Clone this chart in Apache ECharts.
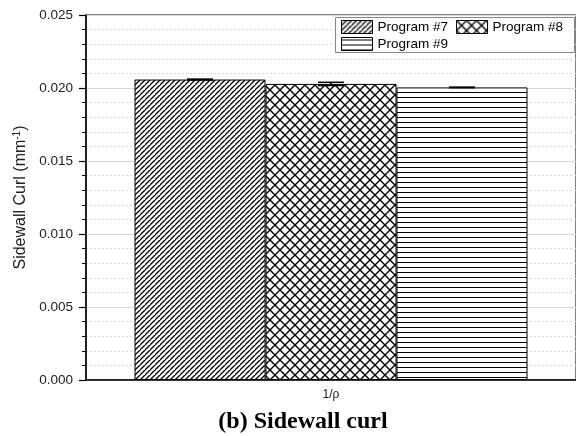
<!DOCTYPE html>
<html>
<head>
<meta charset="utf-8">
<script src="https://cdn.jsdelivr.net/npm/echarts@6/dist/echarts.min.js"></script>
<style>html,body{margin:0;padding:0;background:#fff;}#c{width:576px;height:436px;}</style>
</head>
<body>
<div id="c"></div>
<script>
// ---- data ----
const categories = ['1/\u03c1'];
const seriesNames = ['Program #7', 'Program #8', 'Program #9'];
const program7 = [0.02058];
const program8 = [0.02028];
const program9 = [0.02004];
const errors7 = [0.00003];
const errors8 = [0.00011];
const errors9 = [0.00002];
const yTicks = ['0.000', '0.005', '0.010', '0.015', '0.020', '0.025'];

// ---- hatch patterns ----
function makePattern(kind) {
  const s = kind === 'cross' ? 10 : 5;
  const c = document.createElement('canvas');
  c.width = s; c.height = s;
  const g = c.getContext('2d');
  g.fillStyle = '#fff'; g.fillRect(0, 0, s, s);
  g.strokeStyle = '#000';
  if (kind === 'diag') {
    g.lineWidth = 1.3;
    g.beginPath();
    g.moveTo(-1, s + 1); g.lineTo(s + 1, -1);
    g.moveTo(-1 - s, s + 1); g.lineTo(1, -1);
    g.moveTo(s - 1, 2 * s + 1); g.lineTo(2 * s + 1, s - 1);
    g.stroke();
  } else if (kind === 'cross') {
    g.lineWidth = 1.4;
    g.beginPath();
    g.moveTo(-1, s + 1); g.lineTo(s + 1, -1);
    g.moveTo(-1, -1); g.lineTo(s + 1, s + 1);
    g.stroke();
  } else {
    g.lineWidth = 1;
    g.beginPath();
    g.moveTo(0, 2.5); g.lineTo(s, 2.5);
    g.stroke();
  }
  return { image: c, repeat: 'repeat' };
}
const patterns = [makePattern('diag'), makePattern('cross'), makePattern('horiz')];
const values = [program7, program8, program9];
const errs = [errors7, errors8, errors9];

const BAR_W = 131;

const series = [];
values.forEach((v, i) => {
  series.push({
    name: seriesNames[i],
    type: 'bar',
    data: v,
    barWidth: BAR_W,
    barGap: '0%',
    itemStyle: { color: patterns[i], borderColor: '#000', borderWidth: 1 },
    emphasis: { disabled: true },
    z: 2
  });
});
values.forEach((v, i) => {
  series.push({
    type: 'custom',
    name: 'err' + i,
    data: v.map((val, k) => [k, val, errs[i][k]]),
    z: 5,
    renderItem: function (params, api) {
      const x = api.value(0);
      const val = api.value(1);
      const e = api.value(2);
      const hi = api.coord([x, val + e]);
      const lo = api.coord([x, val - e]);
      const cx = hi[0] + (i - 1) * BAR_W;
      const hw = 13;
      const st = { stroke: '#000', lineWidth: 1.5 };
      return {
        type: 'group',
        children: [
          { type: 'line', shape: { x1: cx, y1: hi[1], x2: cx, y2: lo[1] }, style: st },
          { type: 'line', shape: { x1: cx - hw, y1: hi[1], x2: cx + hw, y2: hi[1] }, style: st },
          { type: 'line', shape: { x1: cx - hw, y1: lo[1], x2: cx + hw, y2: lo[1] }, style: st }
        ]
      };
    }
  });
});

const chart = echarts.init(document.getElementById('c'), null, { renderer: 'canvas' });
const legendText = { fontFamily: 'Liberation Sans, Arial, sans-serif', fontSize: 13.5, color: '#000' };
chart.setOption({
  animation: false,
  backgroundColor: '#fff',
  title: {
    text: '(b) Sidewall curl',
    left: 298, top: 405, textAlign: 'center',
    textStyle: { fontFamily: 'Liberation Serif, Times New Roman, serif', fontWeight: 'bold', fontSize: 24, color: '#000' }
  },
  grid: { left: 86, right: -1, top: 15, bottom: 56, show: true, borderColor: '#000', borderWidth: 1, backgroundColor: 'transparent' },
  graphic: [{
    type: 'rect', shape: { x: 335.5, y: 17.5, width: 239, height: 35 },
    style: { fill: '#fff', stroke: '#888', lineWidth: 1 }, z: 10
  }],
  legend: [
    {
      data: [
        { name: seriesNames[0], itemStyle: { color: patterns[0], borderColor: '#000', borderWidth: 1 } },
        { name: seriesNames[1], itemStyle: { color: patterns[1], borderColor: '#000', borderWidth: 1 } }
      ],
      left: 336, top: 18, padding: [2, 0, 0, 5], itemWidth: 31, itemHeight: 13, itemGap: 8,
      icon: 'rect', textStyle: legendText, selectedMode: false, z: 20
    },
    {
      data: [
        { name: seriesNames[2], itemStyle: { color: patterns[2], borderColor: '#000', borderWidth: 1 } }
      ],
      left: 336, top: 35, padding: [2, 0, 0, 5], itemWidth: 31, itemHeight: 13,
      icon: 'rect', textStyle: legendText, selectedMode: false, z: 20
    }
  ],
  xAxis: {
    type: 'category',
    data: categories,
    axisLine: { show: true, lineStyle: { color: '#000', width: 1.5 } },
    axisTick: { show: false },
    axisLabel: { fontFamily: 'Liberation Sans, Arial, sans-serif', fontSize: 12, color: '#222', margin: 9 },
    splitLine: { show: false }
  },
  yAxis: {
    type: 'value',
    min: 0, max: 0.025, interval: 0.005,
    name: '{a|Sidewall Curl (mm}{s|-1}{a|)}',
    nameLocation: 'middle',
    nameGap: 56,
    nameTextStyle: {
      rich: {
        a: { fontFamily: 'Liberation Sans, Arial, sans-serif', fontSize: 16, color: '#222' },
        s: { fontFamily: 'Liberation Sans, Arial, sans-serif', fontSize: 10, color: '#222', verticalAlign: 'top', padding: [0, 0, 7, 0] }
      }
    },
    axisLine: { show: true, lineStyle: { color: '#000', width: 1.5 } },
    axisTick: { show: true, inside: false, length: 7, lineStyle: { color: '#000', width: 1.2 } },
    minorTick: { show: true, splitNumber: 5, length: 4, lineStyle: { color: '#000', width: 1 } },
    axisLabel: {
      fontFamily: 'Liberation Sans, Arial, sans-serif', fontSize: 13.5, color: '#222', margin: 13,
      formatter: function (v) { return yTicks[Math.round(v / 0.005)]; }
    },
    splitLine: { show: true, lineStyle: { color: '#d8d8d8', width: 1 } },
    minorSplitLine: { show: true, lineStyle: { color: '#d8d8d8', width: 1, type: [2, 2] } }
  },
  series: series
});
</script>
</body>
</html>
